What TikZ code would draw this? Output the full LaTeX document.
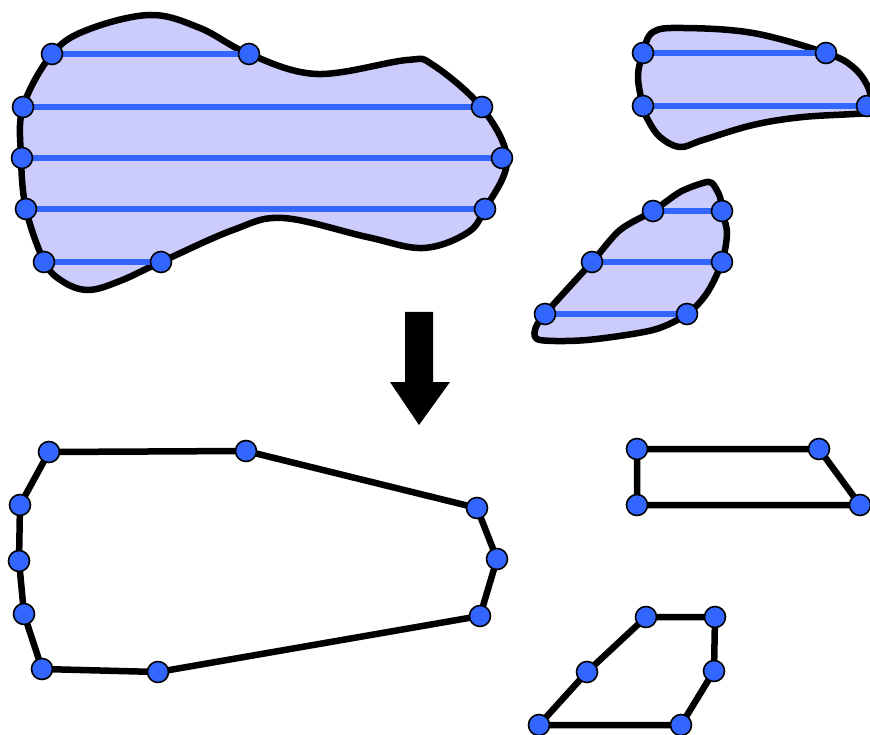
\documentclass[tikz,border=0pt]{standalone}
\definecolor{fillblue}{RGB}{204,204,252}
\definecolor{dotblue}{RGB}{51,102,255}
\definecolor{lineblue}{RGB}{51,102,255}
\pgfdeclarelayer{shapes}
\pgfdeclarelayer{links}
\pgfsetlayers{shapes,links,main}
\begin{document}
\begin{tikzpicture}[x=1pt,y=-1pt,
  dot/.style={circle,fill=dotblue,draw=black,line width=1.6pt,minimum size=21pt,inner sep=0pt},
  blob/.style={draw=black,fill=fillblue,line width=6.5pt,line join=round},
  hline/.style={draw=lineblue,line width=5.5pt},
  pedge/.style={draw=black,line width=6.5pt,line join=round}]
\useasboundingbox (0,0) rectangle (870,735);

% ---- blobs
\begin{pgfonlayer}{shapes}
\draw[blob] plot[smooth cycle, tension=0.6] coordinates {
 (150,15) (200,28) (249,54) (317,74) (407,60) (433,65) (482,108) (507,160)
 (485,209) (467,233) (423,248) (367,237) (283,218) (233,230) (161,262)
 (120,281) (88,290) (62,281) (44,261) (26,209) (21,157) (23,107) (52,54) (87,30)};
\draw[blob] plot[smooth cycle, tension=0.6] coordinates {
 (653,32) (683,28) (753,33) (826,53) (853,67) (868,87) (872,108) (867,113)
 (803,117) (753,125) (703,140) (680,147) (660,137) (648,120) (643,106) (638,77) (643,53)};
\draw[blob] plot[smooth cycle, tension=0.5] coordinates {
 (703,183) (712,183) (720,197) (722,211) (727,233) (722,262) (707,293) (687,314)
 (653,330) (587,340) (540,340) (535,330) (545,314) (592,262) (620,230) (653,211) (680,192)};
\end{pgfonlayer}

% ---- dots on blobs
\node[dot] (b1) at (52,54) {};
\node[dot] (b2) at (249,54) {};
\node[dot] (b3) at (23,107) {};
\node[dot] (b4) at (482,107) {};
\node[dot] (b5) at (22,158) {};
\node[dot] (b6) at (502,158) {};
\node[dot] (b7) at (26,209) {};
\node[dot] (b8) at (485,209) {};
\node[dot] (b9) at (44,262) {};
\node[dot] (b10) at (161,262) {};

\node[dot] (t1) at (643,53) {};
\node[dot] (t2) at (826,53) {};
\node[dot] (t3) at (643,106) {};
\node[dot] (t4) at (867,106) {};

\node[dot] (m1) at (653,211) {};
\node[dot] (m2) at (722,211) {};
\node[dot] (m3) at (592,262) {};
\node[dot] (m4) at (722,262) {};
\node[dot] (m5) at (545,314) {};
\node[dot] (m6) at (687,314) {};

\begin{pgfonlayer}{links}
\draw[hline] (b1.center) -- (b2.center);
\draw[hline] (b3.center) -- (b4.center);
\draw[hline] (b5.center) -- (b6.center);
\draw[hline] (b7.center) -- (b8.center);
\draw[hline] (b9.center) -- (b10.center);
\draw[hline] (t1.center) -- (t2.center);
\draw[hline] (t3.center) -- (t4.center);
\draw[hline] (m1.center) -- (m2.center);
\draw[hline] (m3.center) -- (m4.center);
\draw[hline] (m5.center) -- (m6.center);
\end{pgfonlayer}

% ---- arrow
\fill[black] (405,312) -- (433,312) -- (433,382) -- (450,382) -- (419,425)
  -- (390,382) -- (405,382) -- cycle;

% ---- polygons
\node[dot] (p1) at (49,452) {};
\node[dot] (p2) at (246,451) {};
\node[dot] (p3) at (477,508) {};
\node[dot] (p4) at (497,559) {};
\node[dot] (p5) at (480,616) {};
\node[dot] (p6) at (158,672) {};
\node[dot] (p7) at (42,669) {};
\node[dot] (p8) at (24,614) {};
\node[dot] (p9) at (19,561) {};
\node[dot] (p10) at (20,505) {};

\node[dot] (q1) at (637,449) {};
\node[dot] (q2) at (819,449) {};
\node[dot] (q3) at (860,505) {};
\node[dot] (q4) at (637,505) {};

\node[dot] (r1) at (646,617) {};
\node[dot] (r2) at (715,617) {};
\node[dot] (r3) at (714,671) {};
\node[dot] (r4) at (681,725) {};
\node[dot] (r5) at (539,725) {};
\node[dot] (r6) at (587,672) {};

\begin{pgfonlayer}{links}
\draw[pedge] (p1.center) -- (p2.center) -- (p3.center) -- (p4.center) -- (p5.center)
  -- (p6.center) -- (p7.center) -- (p8.center) -- (p9.center) -- (p10.center) -- cycle;
\draw[pedge] (q1.center) -- (q2.center) -- (q3.center) -- (q4.center) -- cycle;
\draw[pedge] (r1.center) -- (r2.center) -- (r3.center) -- (r4.center) -- (r5.center)
  -- (r6.center) -- cycle;
\end{pgfonlayer}
\end{tikzpicture}
\end{document}
